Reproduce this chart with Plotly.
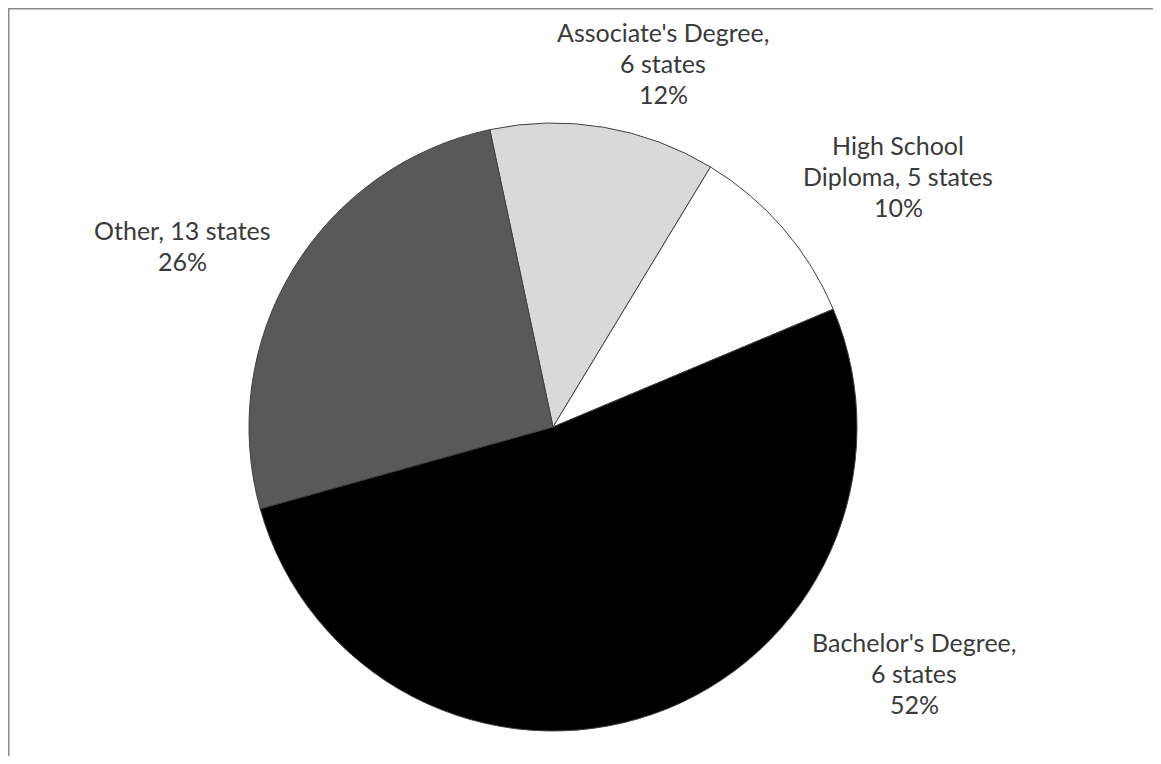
import plotly.graph_objects as go

# Data
categories = ["Associate's Degree", "High School Diploma", "Bachelor's Degree", "Other"]
percent = [12, 10, 52, 26]
label_lines = [
    ["Associate's Degree,", "6 states"],
    ["High School", "Diploma, 5 states"],
    ["Bachelor's Degree,", "6 states"],
    ["Other, 13 states"],
]
colors = ["#d9d9d9", "#ffffff", "#000000", "#595959"]

OFF = 8  # default page body margin
W, H = 1161 - 2 * OFF, 764 - 2 * OFF  # figure size so the page does not overflow
cx, cy, r = 553 - OFF, 427 - OFF, 304

fig = go.Figure(go.Pie(
    labels=categories,
    values=percent,
    sort=False,
    direction="clockwise",
    rotation=-12,
    textinfo="none",
    hoverinfo="label+percent",
    marker=dict(colors=colors, line=dict(color="#404040", width=1)),
    domain=dict(x=[(cx - r) / W, (cx + r) / W], y=[1 - (cy + r) / H, 1 - (cy - r) / H]),
    showlegend=False,
))

# label block centres (page pixels) and line spacing
label_pos = [(663, 32), (898, 145), (914, 642), (182, 230)]
line_gap = 31

annotations = []
for lines, pct, (lx, ly) in zip(label_lines, percent, label_pos):
    all_lines = lines + [f"{pct}%"]
    for i, t in enumerate(all_lines):
        annotations.append(dict(
            x=(lx - OFF) / W, y=1 - (ly - OFF + i * line_gap) / H, xref="paper", yref="paper",
            text=t, showarrow=False, xanchor="center", yanchor="middle",
            font=dict(family="Lato", size=25, color="#3a3a3a"),
        ))

border = dict(color="#8a8a8a", width=3)
fig.update_layout(
    width=W, height=H,
    margin=dict(l=0, r=0, t=0, b=0),
    paper_bgcolor="white",
    plot_bgcolor="white",
    annotations=annotations,
    shapes=[
        dict(type="line", xref="paper", yref="paper", x0=0, x1=1.2, y0=1, y1=1, line=border),
        dict(type="line", xref="paper", yref="paper", x0=0, x1=0, y0=-0.2, y1=1, line=border),
    ],
)

fig.write_html("out.html")
